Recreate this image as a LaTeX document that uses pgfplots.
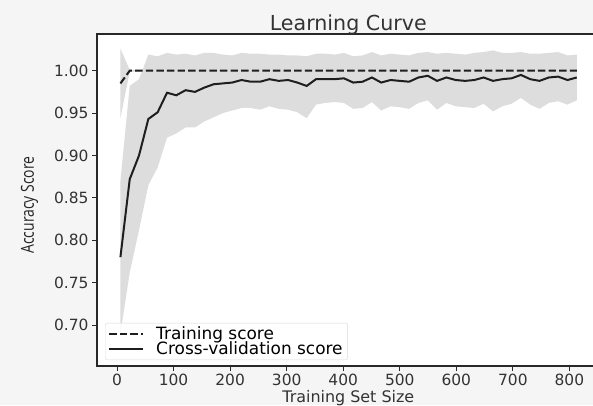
\documentclass[border=0pt]{standalone}
\usepackage{fontspec}
\setmainfont{DejaVu Sans}
\newfontfamily\condfont[FakeStretch=0.78]{Open Sans}
\usepackage{pgfplots}
\usepackage{pgfplotstable}
\pgfplotsset{compat=1.18}
\definecolor{bgout}{RGB}{245,245,245}
\definecolor{band}{RGB}{221,221,221}
\definecolor{linec}{RGB}{30,30,30}
\definecolor{spine}{RGB}{40,40,40}

\pgfplotstableread{
x cv tr
6 0.780 0.985
22.5 0.872 1.000
38.9 0.900 1.000
55.4 0.943 1.000
71.9 0.951 1.000
88.4 0.974 1.000
104.8 0.971 1.000
121.3 0.977 1.000
137.8 0.975 1.000
154.2 0.980 1.000
170.7 0.984 1.000
187.2 0.985 1.000
203.6 0.986 1.000
220.1 0.989 1.000
236.6 0.987 1.000
253.1 0.987 1.000
269.5 0.990 1.000
286.0 0.988 1.000
302.5 0.989 1.000
318.9 0.986 1.000
335.4 0.982 1.000
351.9 0.990 1.000
368.3 0.990 1.000
384.8 0.990 1.000
401.3 0.991 1.000
417.8 0.986 1.000
434.2 0.987 1.000
450.7 0.992 1.000
467.2 0.986 1.000
483.6 0.989 1.000
500.1 0.988 1.000
516.6 0.987 1.000
533.0 0.992 1.000
549.5 0.994 1.000
566.0 0.988 1.000
582.5 0.992 1.000
598.9 0.989 1.000
615.4 0.988 1.000
631.9 0.989 1.000
648.3 0.992 1.000
664.8 0.988 1.000
681.3 0.990 1.000
697.7 0.991 1.000
714.2 0.995 1.000
730.7 0.990 1.000
747.2 0.988 1.000
763.6 0.992 1.000
780.1 0.993 1.000
796.6 0.989 1.000
813.0 0.992 1.000
}\data

% CV band: upper edge left to right, then lower edge right to left
\pgfplotstableread{
x y
6 0.870
22.5 0.982
38.9 0.990
55.4 1.019
71.9 1.017
88.4 1.021
104.8 1.019
121.3 1.020
137.8 1.018
154.2 1.021
170.7 1.021
187.2 1.019
203.6 1.018
220.1 1.021
236.6 1.020
253.1 1.020
269.5 1.019
286.0 1.019
302.5 1.018
318.9 1.018
335.4 1.017
351.9 1.020
368.3 1.020
384.8 1.019
401.3 1.021
417.8 1.017
434.2 1.018
450.7 1.022
467.2 1.018
483.6 1.020
500.1 1.019
516.6 1.018
533.0 1.021
549.5 1.022
566.0 1.020
582.5 1.021
598.9 1.020
615.4 1.019
631.9 1.021
648.3 1.022
664.8 1.024
681.3 1.021
697.7 1.021
714.2 1.022
730.7 1.020
747.2 1.020
763.6 1.021
780.1 1.022
796.6 1.018
813.0 1.019
813.0 0.965
796.6 0.960
780.1 0.964
763.6 0.962
747.2 0.955
730.7 0.960
714.2 0.968
697.7 0.961
681.3 0.958
664.8 0.952
648.3 0.961
631.9 0.956
615.4 0.957
598.9 0.958
582.5 0.962
566.0 0.954
549.5 0.965
533.0 0.962
516.6 0.955
500.1 0.957
483.6 0.958
467.2 0.953
450.7 0.963
434.2 0.956
417.8 0.955
401.3 0.962
384.8 0.963
368.3 0.962
351.9 0.960
335.4 0.944
318.9 0.951
302.5 0.954
286.0 0.955
269.5 0.958
253.1 0.954
236.6 0.956
220.1 0.956
203.6 0.953
187.2 0.950
170.7 0.945
154.2 0.940
137.8 0.933
121.3 0.933
104.8 0.926
88.4 0.921
71.9 0.886
55.4 0.865
38.9 0.812
22.5 0.762
6 0.690
}\cvband

% training band
\pgfplotstableread{
x y
6 1.026
22.5 1.001
813.0 1.000
813.0 1.000
22.5 0.999
6 0.944
}\trband

\begin{document}
\begin{tikzpicture}[x=1bp,y=1bp]
\useasboundingbox (0,0) rectangle (593,405);
\fill[bgout] (0,0) rectangle (593,405);
\begin{axis}[
  at={(97bp,39bp)}, anchor=south west,
  scale only axis, width=502.6bp, height=332bp,
  xmin=-35.4, xmax=853.4, ymin=0.6516, ymax=1.0433,
  axis background/.style={fill=white},
  axis line style={spine, line width=1.1pt},
  xtick={0,100,...,800},
  ytick={0.70,0.75,...,1.00},
  yticklabel style={/pgf/number format/.cd, fixed, fixed zerofill, precision=2},
  /pgf/number format/assume math mode=true,
  tick align=outside, tick pos=left,
  major tick length=5bp,
  tick style={spine, line width=0.9pt},
  ticklabel style={font=\fontsize{15.5}{16}\selectfont, text=black!80},
  xlabel={Training Set Size},
  ylabel={{\condfont Accuracy Score}},
  xlabel style={font=\fontsize{16}{17}\selectfont, text=black!80, yshift=3bp},
  ylabel style={font=\fontsize{18}{19}\selectfont, text=black!85, yshift=9bp, xshift=-5bp},
  title={Learning Curve},
  title style={font=\fontsize{20.7}{21}\selectfont, text=black!80, yshift=-10bp},
  legend style={at={(0.016,0.018)}, anchor=south west, draw=black!15, rounded corners=2bp,
    fill=white, fill opacity=0.8, text opacity=1, font=\fontsize{17}{18}\selectfont,
    row sep=-3bp, inner xsep=3bp, inner ysep=1.5bp},
  legend cell align=left,
  legend image code/.code={\draw[#1] (0bp,0bp) -- (34bp,0bp);},
]
\addplot[fill=band, draw=none, forget plot] table[x=x, y=y] {\trband} -- cycle;
\addplot[fill=band, draw=none, forget plot] table[x=x, y=y] {\cvband} -- cycle;
\addplot[linec, line width=2bp, dash pattern=on 7.4bp off 3.2bp] table[x=x, y=tr] {\data};
\addlegendentry{\hspace*{10bp}Training score}
\addplot[linec, line width=2bp] table[x=x, y=cv] {\data};
\addlegendentry{\hspace*{10bp}Cross-validation score}
\end{axis}
\end{tikzpicture}
\end{document}
